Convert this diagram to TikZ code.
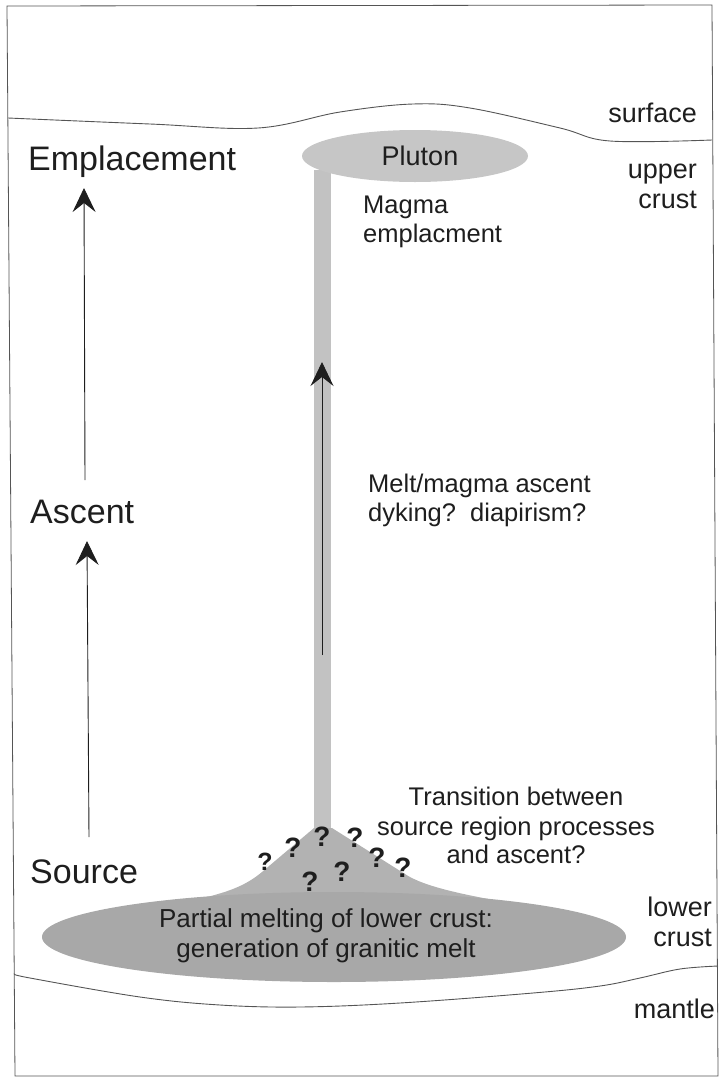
\documentclass[tikz,border=0pt]{standalone}
\usepackage{fontspec}
\setmainfont{Liberation Sans}
\usetikzlibrary{arrows.meta}
\definecolor{txt}{HTML}{1E1E1E}
\definecolor{linec}{HTML}{555555}
\definecolor{pluto}{HTML}{C6C6C6}
\definecolor{condc}{HTML}{C2C2C2}
\definecolor{moundc}{HTML}{B2B2B2}
\definecolor{lowerc}{HTML}{A8A8A8}
\begin{document}
\begin{tikzpicture}[x=1pt,y=-1pt,
  lbl/.style={font=\fontsize{25.5}{29}\selectfont, text=txt, inner sep=0pt},
  rlbl/.style={font=\fontsize{27}{30}\selectfont, text=txt, inner sep=0pt},
  big/.style={font=\fontsize{34}{40}\selectfont, text=txt, inner sep=0pt},
  qm/.style={font=\bfseries\fontsize{28}{28}\selectfont, text=txt, inner sep=0pt},
  boundary/.style={draw=linec, line width=0.9pt},
  uparrow/.style={draw=txt, line width=0.9pt, -{Stealth[length=24pt,width=23pt,inset=9pt]}}
]
\useasboundingbox (0,0) rectangle (719,1077);
% frame
\draw[draw=linec, line width=0.8pt] (7,6) -- (712,5) -- (718,1076) -- (15,1076) -- cycle;
% surface
\draw[boundary] plot[smooth, tension=0.6] coordinates {(8,118) (150,124) (258,128) (340,112) (413,104) (470,108) (560,128) (610,141) (712,140)};
% mantle boundary
\draw[boundary] plot[smooth, tension=0.6] coordinates {(15,974) (30,978) (140,997) (220,1005) (300,1007) (400,1003) (533,993) (600,986) (640,978) (680,969) (718,966)};
% conduit
\fill[condc] (314,170) rectangle (331,840);
% pluton
\fill[pluto] (415,156) ellipse [x radius=113, y radius=26];
\node[lbl, font=\fontsize{27}{30}\selectfont, anchor=base] (pluton) at (420,165) {Pluton};
% mound and lower ellipse
\fill[moundc] (185,902) .. controls (228,893) and (245,886) .. (262,872) -- (314,828) -- (332,828) -- (405,874) .. controls (420,884) and (448,892) .. (505,902) -- cycle;
\fill[lowerc] (334,937) ellipse [x radius=292, y radius=45];
\node[lbl, font=\fontsize{26}{29}\selectfont, anchor=base] (pm1) at (326,927) {Partial melting of lower crust:};
\node[lbl, font=\fontsize{26}{29}\selectfont, anchor=base] (pm2) at (326,957) {generation of granitic melt};
% question marks
\node[qm, font=\bfseries\fontsize{25}{25}\selectfont] (q1) at (265,862) {?};
\node[qm] (q2) at (293,848) {?};
\node[qm] (q3) at (322,837) {?};
\node[qm] (q4) at (355,838) {?};
\node[qm] (q5) at (377,858) {?};
\node[qm] (q6) at (403,868) {?};
\node[qm] (q7) at (310,882) {?};
\node[qm] (q8) at (342,872) {?};
% text labels
\node[lbl, anchor=base west] (mag1) at (363,213) {Magma};
\node[lbl, anchor=base west] (mag2) at (363,242) {emplacment};
\node[lbl, anchor=base west] (melt1) at (368,492) {Melt/magma ascent};
\node[lbl, anchor=base west] (melt2) at (368,521) {dyking?\ \ diapirism?};
\node[lbl, anchor=base] (tr1) at (516,805) {Transition between};
\node[lbl, anchor=base] (tr2) at (516,835) {source region processes};
\node[lbl, anchor=base] (tr3) at (516,863) {and ascent?};
% right labels
\node[rlbl, anchor=base east] (surf) at (697,122) {surface};
\node[rlbl, anchor=base east] (up1) at (697,178) {upper};
\node[rlbl, anchor=base east] (up2) at (697,208) {crust};
\node[rlbl, anchor=base east] (lo1) at (712,916) {lower};
\node[rlbl, anchor=base east] (lo2) at (712,946) {crust};
\node[rlbl, anchor=base east] (mant) at (715,1018) {mantle};
% stage labels
\node[big, anchor=base west] (empl) at (28,170) {Emplacement};
\node[big, anchor=base west] (asc) at (30,523) {Ascent};
\node[big, anchor=base west] (src) at (30,883) {Source};
% arrows
\coordinate (a1s) at (85,480);
\coordinate (a1e) at (84,188);
\coordinate (a2s) at (89,837);
\coordinate (a2e) at (87,541);
\coordinate (cs) at (322,655);
\coordinate (ce) at (322,362);
\draw[uparrow] (a1s) -- (a1e);
\draw[uparrow] (a2s) -- (a2e);
\draw[uparrow] (cs) -- (ce);
\end{tikzpicture}
\end{document}
